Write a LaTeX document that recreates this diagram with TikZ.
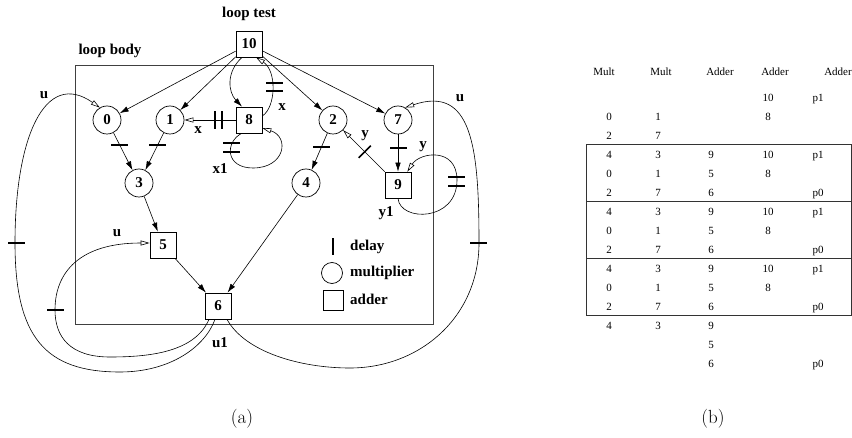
\documentclass[tikz,border=0pt]{standalone}
\usepackage{fontspec}
\newfontfamily\tms{Liberation Serif}
\usetikzlibrary{arrows.meta}
\begin{document}
\begin{tikzpicture}[x=1pt,y=1pt,
  lbl/.style={font=\tms\bfseries\fontsize{15}{15}\selectfont, inner sep=0pt},
  mul/.style={circle, draw, line width=0.7pt, minimum size=28pt, inner sep=0pt, fill=white, font=\tms\bfseries\fontsize{15}{15}\selectfont},
  add/.style={rectangle, draw, line width=0.7pt, minimum size=26pt, inner sep=0pt, fill=white, font=\tms\bfseries\fontsize{15}{15}\selectfont},
  edge/.style={line width=0.6pt, -{Latex[length=9pt,width=5.5pt]}},
  oedge/.style={line width=0.6pt, -{Triangle[open,length=9pt,width=5pt,line width=0.6pt]}},
  dly/.style={fill=black, draw=none, inner sep=0pt, minimum width=17pt, minimum height=1.6pt},
  dlyv/.style={fill=black, draw=none, inner sep=0pt, minimum width=1.6pt, minimum height=18pt},
  dlyp/.style={fill=black, draw=none, inner sep=0pt, minimum width=1.6pt, minimum height=17pt, sloped},
  cell/.style={font=\tms\fontsize{11}{12}\selectfont, anchor=base, inner sep=0pt},
]
\useasboundingbox (0,0) rectangle (852,437);

% loop body
\draw[line width=0.9pt, black!75] (75,113) rectangle (433,372);
\node[lbl] (lt) at (249,423) {loop test};
\node[lbl] (lb) at (110,386) {loop body};

% nodes
\node[add] (n10) at (249,393) {10};
\node[mul] (n0) at (107,317) {0};
\node[mul] (n1) at (170,317) {1};
\node[add] (n8) at (249,317) {8};
\node[mul] (n2) at (333,317) {2};
\node[mul] (n7) at (398,317) {7};
\node[mul] (n3) at (139,254) {3};
\node[mul] (n4) at (306,254) {4};
\node[add] (n9) at (398,252) {9};
\node[add] (n5) at (163,192) {5};
\node[add] (n6) at (218,131) {6};

% straight edges
\draw[edge] (n10) -- (n0);
\draw[edge] (n10) -- (n1);
\draw[edge] (n10) -- (n2);
\draw[edge] (n10) -- (n7);
\draw[edge] (n0) -- node[dly, pos=0.33] (d03) {} (n3);
\draw[edge] (n1) -- node[dly, pos=0.33] (d13) {} (n3);
\draw[edge] (n2) -- node[dly, pos=0.38] (d24) {} (n4);
\draw[edge] (n7) -- node[dly, pos=0.37] (d79) {} (n9);
\draw[oedge] (n9) -- node[dlyp, pos=0.48] (d92) {} (n2);
\draw[oedge] (n8) -- node[dlyv, pos=0.27] (d81a) {} node[dlyv, pos=0.40] (d81b) {} (n1);
\draw[edge] (n3) -- (n5);
\draw[edge] (n5) -- (n6);
\draw[edge] (n4) -- (n6);

% 10 <-> 8
\draw[edge] ([xshift=-7pt]n10.south) .. controls (226,365) and (228,345) .. ([xshift=-7pt]n8.north);
\draw[oedge] ([yshift=4pt]n8.east) .. controls (276,330) and (277,366) .. ([xshift=7pt]n10.south);
\node[dly] (d810a) at (274,354) {};
\node[dly] (d810b) at (274,346) {};

% 8 self loop
\draw[oedge] ([xshift=6pt]n8.south west) .. controls (225,295) and (225,269) .. (253,269) .. controls (285,269) and (290,300) .. ([yshift=-8pt]n8.east);
\node[dly] (d88a) at (231,294) {};
\node[dly] (d88b) at (231,285) {};

% 9 self loop
\draw[oedge] (n9.south) .. controls (400,215) and (457,215) .. (457,257) .. controls (457,290) and (420,285) .. ([xshift=-4pt]n9.north east);
\node[dly] (d99a) at (456,260) {};
\node[dly] (d99b) at (456,251) {};

% u edges from 6
\draw[oedge] ([xshift=-3pt]n6.south) .. controls (205,90) and (170,65) .. (120,65) .. controls (45,65) and (15,100) .. (15,194) .. controls (15,300) and (45,368) .. (n0.120);
\node[dly] (dul) at (16,194) {};
\draw[oedge] ([xshift=-9pt]n6.south) .. controls (195,85) and (150,80) .. (110,80) .. controls (70,80) and (55,100) .. (55,127) .. controls (55,165) and (80,194) .. ([yshift=2pt]n5.west);
\node[dly] (dui) at (55,127) {};
\draw[oedge] ([xshift=9pt]n6.south) .. controls (245,85) and (300,69) .. (350,69) .. controls (420,69) and (479,120) .. (479,194) .. controls (479,290) and (472,352) .. (n7.60);
\node[dly] (dur) at (478,194) {};

% labels
\node[lbl] (lu1) at (44,342) {u};
\node[lbl] (lu2) at (117,204) {u};
\node[lbl] (lu3) at (460,339) {u};
\node[lbl] (lu4) at (220,94) {u1};
\node[lbl] (lx1) at (198,307) {x};
\node[lbl] (lx2) at (282,330) {x};
\node[lbl] (lx3) at (220,268) {x1};
\node[lbl] (ly1) at (365,301) {y};
\node[lbl] (ly2) at (423,290) {y};
\node[lbl] (ly3) at (386,224) {y1};

% legend
\node[dlyv, minimum height=17pt] (lgd) at (333,190.5) {};
\node[mul, minimum size=21pt] (lgm) at (332,164) {};
\node[add, minimum size=20pt] (lga) at (333,137) {};
\node[lbl, anchor=west] (lgdt) at (350,190) {delay};
\node[lbl, anchor=west] (lgmt) at (350,164) {multiplier};
\node[lbl, anchor=west] (lgat) at (350,138) {adder};

% captions
\node[font=\fontsize{19}{21}\selectfont, inner sep=0pt] (capa) at (242,18) {(a)};
\node[font=\fontsize{19}{21}\selectfont, inner sep=0pt] (capb) at (713,18) {(b)};

% table
\node[cell] (h1) at (604,361.3) {Mult};
\node[cell] (h2) at (661,361.3) {Mult};
\node[cell] (h3) at (720,361.3) {Adder};
\node[cell] (h4) at (775,361.3) {Adder};
\node[cell] (h5) at (838,361.3) {Adder};
\foreach \r/\a/\b/\c/\d/\e in {
 1/{}/{}/{}/10/p1,
 2/0/1/{}/8/{},
 3/2/7/{}/{}/{},
 4/4/3/9/10/p1,
 5/0/1/5/8/{},
 6/2/7/6/{}/p0,
 7/4/3/9/10/p1,
 8/0/1/5/8/{},
 9/2/7/6/{}/p0,
 10/4/3/9/10/p1,
 11/0/1/5/8/{},
 12/2/7/6/{}/p0,
 13/4/3/9/{}/{},
 14/{}/{}/5/{}/{},
 15/{}/{}/6/{}/p0}{
  \pgfmathsetmacro\yy{339-19*(\r-1)-3.7}
  \node[cell] (t\r a) at (609,\yy) {\a};
  \node[cell] (t\r b) at (658,\yy) {\b};
  \node[cell] (t\r c) at (711,\yy) {\c};
  \node[cell] (t\r d) at (768,\yy) {\d};
  \node[cell] (t\r e) at (818,\yy) {\e};
}
\draw[line width=0.8pt, black!80] (586,122) rectangle (851.5,293);
\draw[line width=0.8pt, black!80] (586,236) -- (851.5,236);
\draw[line width=0.8pt, black!80] (586,179) -- (851.5,179);
\end{tikzpicture}
\end{document}
